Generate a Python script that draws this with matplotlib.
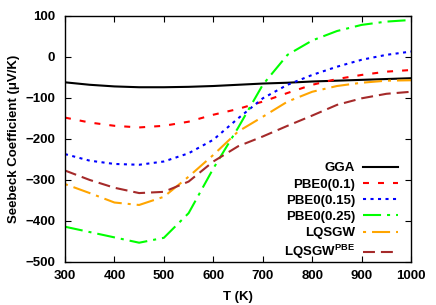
import matplotlib
matplotlib.use("Agg")
import matplotlib.pyplot as plt

plt.rcParams['font.family'] = ['Liberation Sans', 'DejaVu Sans']
plt.rcParams['font.weight'] = 'bold'
plt.rcParams['mathtext.fontset'] = 'custom'
plt.rcParams['mathtext.rm'] = 'Liberation Sans:bold'
plt.rcParams['mathtext.bf'] = 'Liberation Sans:bold'
plt.rcParams['lines.scale_dashes'] = False

T = [300, 350, 400, 450, 500, 550, 600, 650, 700, 750, 800, 850, 900, 950, 1000]

gga = [-62, -68, -72, -74, -74, -73, -71, -68, -65, -63, -60, -58, -56, -54, -52]
pbe0_10 = [-148, -160, -168, -172, -168, -158, -141, -127, -109, -88, -68, -54, -44, -36, -32]
pbe0_15 = [-237, -253, -261, -263, -255, -235, -202, -150, -101, -68, -44, -24, -7, 5, 13]
pbe0_25 = [-414, -427, -440, -453, -441, -381, -272, -173, -68, 5, 40, 63, 78, 86, 90]
lqsgw = [-310, -332, -355, -361, -341, -292, -239, -182, -146, -109, -85, -71, -63, -58, -57]
lqsgw_pbe = [-277, -300, -319, -332, -329, -304, -255, -218, -194, -168, -143, -117, -101, -90, -85]

labels = ['GGA', 'PBE0(0.1)', 'PBE0(0.15)', 'PBE0(0.25)', 'LQSGW', r'LQSGW$^{\mathbf{PBE}}$']

fig = plt.figure(figsize=(4.36, 3.05), dpi=100)
ax = fig.add_axes([0.149, 0.141, 0.794, 0.807])

lw = 1.5
ax.plot(T, gga, color='black', lw=lw, label=labels[0])
ax.plot(T, pbe0_10, color='#ff0000', lw=lw, dashes=(4.3, 6.5), label=labels[1])
ax.plot(T, pbe0_15, color='#0000ff', lw=lw, dashes=(2.2, 3.2), label=labels[2])
ax.plot(T, pbe0_25, color='#00ff00', lw=lw, dashes=(13, 4.3, 2.2, 4.3), label=labels[3])
ax.plot(T, lqsgw, color='#ffa500', lw=lw, dashes=(2.2, 4.3, 13, 4.3), label=labels[4])
ax.plot(T, lqsgw_pbe, color='#a52a2a', lw=lw, dashes=(8.6, 4.3), label=labels[5])

ax.set_xlim(300, 1000)
ax.set_ylim(-500, 100)
ax.set_xticks(range(300, 1001, 100))
ax.set_yticks(range(-500, 101, 100))
ax.tick_params(direction='in', length=4, width=0.8, top=True, right=True,
               labelsize=9.5)
ax.tick_params(axis='x', pad=6)
ax.tick_params(axis='y', pad=7)
for s in ax.spines.values():
    s.set_linewidth(1.0)

ax.set_xlabel('T (K)', fontsize=9.5, fontweight='bold', labelpad=6)
ax.set_ylabel('Seebeck Coefficient (\u03bcV/K)', fontsize=9.5, fontweight='bold', labelpad=4)

ax.legend(loc='lower right', bbox_to_anchor=(0.99, -0.035), frameon=False,
          markerfirst=False, fontsize=9.5, handlelength=2.7, handletextpad=0.6,
          labelspacing=0.3, borderaxespad=0.3)

fig.savefig('out.png', dpi=100)
